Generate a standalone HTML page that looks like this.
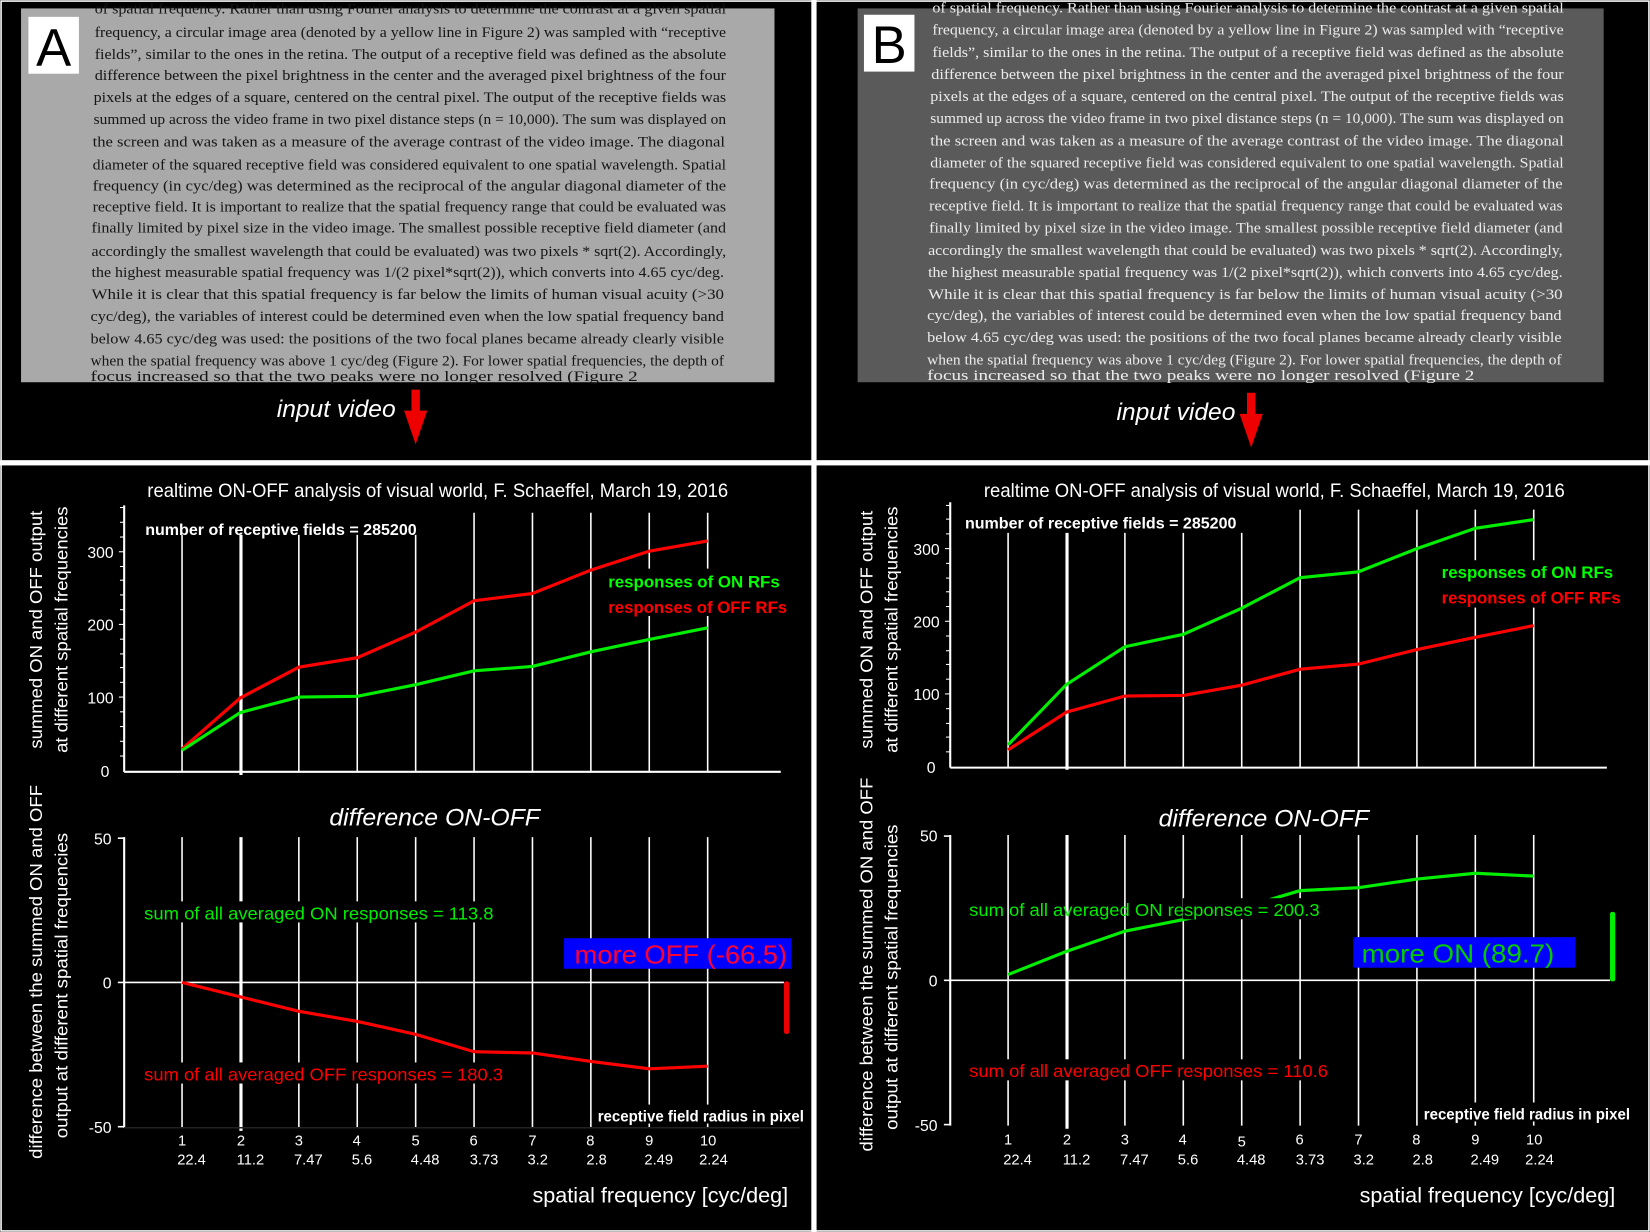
<!DOCTYPE html>
<html><head><meta charset="utf-8"><style>
html,body{margin:0;padding:0;background:#000;}
svg{display:block}
.s{font-family:"Liberation Sans",sans-serif;}
.n{font-family:"Liberation Sans Narrow","Liberation Sans",sans-serif;}
.t{font-family:"Liberation Serif",serif;font-size:14px;}
</style></head><body>
<svg width="1650" height="1232" viewBox="0 0 1568 1170" preserveAspectRatio="none" xmlns="http://www.w3.org/2000/svg">
<rect width="1568" height="1170" fill="#000"/>
<rect x="1" y="1" width="1566" height="1168" fill="none" stroke="#fff" stroke-width="1.5"/>
<rect x="0" y="437" width="1568" height="5" fill="#fff"/>
<rect x="771" y="0" width="5" height="1170" fill="#fff"/>

<rect x="20" y="8" width="716" height="355" fill="#a9a9a9"/>
<g class="t" fill="#151515" lengthAdjust="spacingAndGlyphs">
<text x="90" y="13" textLength="600" lengthAdjust="spacingAndGlyphs">of spatial frequency. Rather than using Fourier analysis to determine the contrast at a given spatial</text>
<text x="90" y="35" textLength="600" lengthAdjust="spacingAndGlyphs">frequency, a circular image area (denoted by a yellow line in Figure 2) was sampled with “receptive</text>
<text x="90" y="56" textLength="600" lengthAdjust="spacingAndGlyphs">fields”, similar to the ones in the retina. The output of a receptive field was defined as the absolute</text>
<text x="90" y="76" textLength="600" lengthAdjust="spacingAndGlyphs">difference between the pixel brightness in the center and the averaged pixel brightness of the four</text>
<text x="89" y="97" textLength="601" lengthAdjust="spacingAndGlyphs">pixels at the edges of a square, centered on the central pixel. The output of the receptive fields was</text>
<text x="89" y="118" textLength="601" lengthAdjust="spacingAndGlyphs">summed up across the video frame in two pixel distance steps (n = 10,000). The sum was displayed on</text>
<text x="88" y="139" textLength="601" lengthAdjust="spacingAndGlyphs">the screen and was taken as a measure of the average contrast of the video image. The diagonal</text>
<text x="88" y="161" textLength="602" lengthAdjust="spacingAndGlyphs">diameter of the squared receptive field was considered equivalent to one spatial wavelength. Spatial</text>
<text x="88" y="181" textLength="602" lengthAdjust="spacingAndGlyphs">frequency (in cyc/deg) was determined as the reciprocal of the angular diagonal diameter of the</text>
<text x="88" y="201" textLength="602" lengthAdjust="spacingAndGlyphs">receptive field. It is important to realize that the spatial frequency range that could be evaluated was</text>
<text x="87" y="221" textLength="603" lengthAdjust="spacingAndGlyphs">finally limited by pixel size in the video image. The smallest possible receptive field diameter (and</text>
<text x="87" y="243" textLength="603" lengthAdjust="spacingAndGlyphs">accordingly the smallest wavelength that could be evaluated) was two pixels * sqrt(2). Accordingly,</text>
<text x="87" y="263" textLength="601" lengthAdjust="spacingAndGlyphs">the highest measurable spatial frequency was 1/(2 pixel*sqrt(2)), which converts into 4.65 cyc/deg.</text>
<text x="87" y="284" textLength="601" lengthAdjust="spacingAndGlyphs">While it is clear that this spatial frequency is far below the limits of human visual acuity (&gt;30</text>
<text x="86" y="305" textLength="602" lengthAdjust="spacingAndGlyphs">cyc/deg), the variables of interest could be determined even when the low spatial frequency band</text>
<text x="86" y="326" textLength="602" lengthAdjust="spacingAndGlyphs">below 4.65 cyc/deg was used: the positions of the two focal planes became already clearly visible</text>
<text x="86" y="347" textLength="602" lengthAdjust="spacingAndGlyphs">when the spatial frequency was above 1 cyc/deg (Figure 2). For lower spatial frequencies, the depth of</text>
<text x="86" y="362" textLength="520" lengthAdjust="spacingAndGlyphs">focus increased so that the two peaks were no longer resolved (Figure 2</text>
</g>
<rect x="27" y="16" width="48" height="54" fill="#fff"/>
<text x="51" y="62" class="s" font-size="50" text-anchor="middle" fill="#000">A</text>

<rect x="815" y="8" width="709" height="355" fill="#5a5a5a"/>
<g class="t" fill="#ececec">
<text x="886" y="12" textLength="600" lengthAdjust="spacingAndGlyphs">of spatial frequency. Rather than using Fourier analysis to determine the contrast at a given spatial</text>
<text x="886" y="33" textLength="600" lengthAdjust="spacingAndGlyphs">frequency, a circular image area (denoted by a yellow line in Figure 2) was sampled with “receptive</text>
<text x="886" y="54" textLength="600" lengthAdjust="spacingAndGlyphs">fields”, similar to the ones in the retina. The output of a receptive field was defined as the absolute</text>
<text x="885" y="75" textLength="601" lengthAdjust="spacingAndGlyphs">difference between the pixel brightness in the center and the averaged pixel brightness of the four</text>
<text x="884" y="96" textLength="602" lengthAdjust="spacingAndGlyphs">pixels at the edges of a square, centered on the central pixel. The output of the receptive fields was</text>
<text x="884" y="117" textLength="602" lengthAdjust="spacingAndGlyphs">summed up across the video frame in two pixel distance steps (n = 10,000). The sum was displayed on</text>
<text x="884" y="138" textLength="602" lengthAdjust="spacingAndGlyphs">the screen and was taken as a measure of the average contrast of the video image. The diagonal</text>
<text x="884" y="159" textLength="602" lengthAdjust="spacingAndGlyphs">diameter of the squared receptive field was considered equivalent to one spatial wavelength. Spatial</text>
<text x="883" y="179" textLength="602" lengthAdjust="spacingAndGlyphs">frequency (in cyc/deg) was determined as the reciprocal of the angular diagonal diameter of the</text>
<text x="883" y="200" textLength="602" lengthAdjust="spacingAndGlyphs">receptive field. It is important to realize that the spatial frequency range that could be evaluated was</text>
<text x="883" y="221" textLength="602" lengthAdjust="spacingAndGlyphs">finally limited by pixel size in the video image. The smallest possible receptive field diameter (and</text>
<text x="882" y="242" textLength="603" lengthAdjust="spacingAndGlyphs">accordingly the smallest wavelength that could be evaluated) was two pixels * sqrt(2). Accordingly,</text>
<text x="882" y="263" textLength="603" lengthAdjust="spacingAndGlyphs">the highest measurable spatial frequency was 1/(2 pixel*sqrt(2)), which converts into 4.65 cyc/deg.</text>
<text x="882" y="284" textLength="603" lengthAdjust="spacingAndGlyphs">While it is clear that this spatial frequency is far below the limits of human visual acuity (&gt;30</text>
<text x="881" y="304" textLength="603" lengthAdjust="spacingAndGlyphs">cyc/deg), the variables of interest could be determined even when the low spatial frequency band</text>
<text x="881" y="325" textLength="603" lengthAdjust="spacingAndGlyphs">below 4.65 cyc/deg was used: the positions of the two focal planes became already clearly visible</text>
<text x="881" y="346" textLength="603" lengthAdjust="spacingAndGlyphs">when the spatial frequency was above 1 cyc/deg (Figure 2). For lower spatial frequencies, the depth of</text>
<text x="881" y="361" textLength="520" lengthAdjust="spacingAndGlyphs">focus increased so that the two peaks were no longer resolved (Figure 2</text>
</g>
<rect x="821" y="14" width="48" height="54" fill="#fff"/>
<text x="845" y="60" class="s" font-size="50" text-anchor="middle" fill="#000">B</text>

<g class="s" font-size="23" font-style="italic" fill="#fff">
<text x="263" y="396" textLength="113" lengthAdjust="spacingAndGlyphs">input video</text>
<text x="1061" y="399" textLength="113" lengthAdjust="spacingAndGlyphs">input video</text>
</g>
<g fill="#e00">
<rect x="391" y="370" width="8" height="22"/><polygon points="384,390 406,390 395,422"/>
<rect x="1185" y="373" width="8" height="22"/><polygon points="1178,393 1200,393 1189,425"/>
</g>

<!-- ============ PANEL A ============ -->
<text x="140" y="472" class="s" fill="#fff" font-size="18" textLength="552" lengthAdjust="spacingAndGlyphs">realtime ON-OFF analysis of visual world, F. Schaeffel, March 19, 2016</text>
<g stroke="#fff" stroke-width="2">
<line x1="118" y1="480" x2="118" y2="733"/>
<line x1="118" y1="733" x2="742" y2="733"/>
<g stroke-width="1.5">
<line x1="173" y1="508" x2="173" y2="733"/><line x1="284" y1="508" x2="284" y2="733"/><line x1="339.5" y1="508" x2="339.5" y2="733"/><line x1="395" y1="508" x2="395" y2="733"/>
<line x1="450.5" y1="487" x2="450.5" y2="733"/><line x1="506" y1="487" x2="506" y2="733"/><line x1="561.5" y1="487" x2="561.5" y2="733"/><line x1="617" y1="487" x2="617" y2="733"/><line x1="672.5" y1="487" x2="672.5" y2="733"/>
</g>
<line x1="229" y1="508" x2="229" y2="736" stroke-width="3"/>
<g stroke-width="1">
<line x1="114" y1="718" x2="118" y2="718"/><line x1="114" y1="704" x2="118" y2="704"/><line x1="114" y1="690" x2="118" y2="690"/><line x1="114" y1="676" x2="118" y2="676"/><line x1="113" y1="662" x2="118" y2="662"/>
<line x1="114" y1="648" x2="118" y2="648"/><line x1="114" y1="634" x2="118" y2="634"/><line x1="114" y1="621" x2="118" y2="621"/><line x1="114" y1="607" x2="118" y2="607"/><line x1="113" y1="593" x2="118" y2="593"/>
<line x1="114" y1="579" x2="118" y2="579"/><line x1="114" y1="565" x2="118" y2="565"/><line x1="114" y1="551" x2="118" y2="551"/><line x1="114" y1="538" x2="118" y2="538"/><line x1="113" y1="524" x2="118" y2="524"/>
<line x1="114" y1="510" x2="118" y2="510"/><line x1="114" y1="496" x2="118" y2="496"/><line x1="114" y1="482" x2="118" y2="482"/>
</g>
</g>
<g class="n" fill="#fff" font-size="15" text-anchor="end">
<text x="104" y="738">0</text><text x="108" y="668">100</text><text x="108" y="599">200</text><text x="108" y="530">300</text>
</g>
<text x="138" y="508" class="n" fill="#fff" font-size="15" font-weight="bold" textLength="258" lengthAdjust="spacingAndGlyphs">number of receptive fields = 285200</text>
<rect x="575" y="540" width="178" height="45" fill="#000"/>
<text x="578" y="558" class="n" fill="#0f0" font-size="16" font-weight="bold" textLength="163" lengthAdjust="spacingAndGlyphs">responses of ON RFs</text>
<text x="578" y="582" class="n" fill="#f00" font-size="16" font-weight="bold" textLength="170" lengthAdjust="spacingAndGlyphs">responses of OFF RFs</text>
<polyline fill="none" stroke="#f00" stroke-width="3" points="173,711.2 228.5,662.7 284,633.6 339.5,624.6 395,600.3 450.5,570.5 506,563.6 561.5,541.4 617,523.4 672.5,513.7"/>
<polyline fill="none" stroke="#0e0" stroke-width="3" points="173,712.6 228.5,676.6 284,662 339.5,661.3 395,650.2 450.5,637.1 506,632.9 561.5,619 617,607.3 672.5,596.2"/>
<g class="s" fill="#fff" font-size="17" text-anchor="middle">
<text transform="translate(40,598) rotate(-90)" textLength="226" lengthAdjust="spacingAndGlyphs">summed ON and OFF output</text>
<text transform="translate(64,598) rotate(-90)" textLength="234" lengthAdjust="spacingAndGlyphs">at different spatial frequencies</text>
<text transform="translate(40,923) rotate(-90)" textLength="355" lengthAdjust="spacingAndGlyphs">difference between the summed ON and OFF</text>
<text transform="translate(64,936) rotate(-90)" textLength="290" lengthAdjust="spacingAndGlyphs">output at different spatial frequencies</text>
</g>
<text x="313" y="784" class="s" fill="#fff" font-size="23" font-style="italic" textLength="200" lengthAdjust="spacingAndGlyphs">difference ON-OFF</text>
<g stroke="#fff" stroke-width="1.5">
<line x1="118" y1="795" x2="118" y2="1071" stroke-width="2"/>
<line x1="118" y1="933" x2="745" y2="933"/>
<line x1="173" y1="795" x2="173" y2="1071"/><line x1="284" y1="795" x2="284" y2="1071"/><line x1="339.5" y1="795" x2="339.5" y2="1071"/><line x1="395" y1="795" x2="395" y2="1071"/>
<line x1="450.5" y1="795" x2="450.5" y2="1071"/><line x1="506" y1="795" x2="506" y2="1071"/><line x1="561.5" y1="795" x2="561.5" y2="1071"/><line x1="617" y1="795" x2="617" y2="1071"/><line x1="672.5" y1="795" x2="672.5" y2="1071"/>
<line x1="229" y1="795" x2="229" y2="1074" stroke-width="3"/>
<line x1="112" y1="796" x2="118" y2="796"/><line x1="112" y1="933" x2="118" y2="933"/><line x1="112" y1="1070" x2="118" y2="1070"/>
<line x1="118" y1="1071" x2="760" y2="1071" stroke="#222"/>
</g>
<g class="n" fill="#fff" font-size="15" text-anchor="end">
<text x="106" y="802">50</text><text x="106" y="939">0</text><text x="106" y="1076">-50</text>
</g>
<rect x="135" y="856" width="338" height="20" fill="#000"/>
<text x="137" y="873" class="s" fill="#0e0" font-size="17" textLength="332" lengthAdjust="spacingAndGlyphs">sum of all averaged ON responses = 113.8</text>
<rect x="135" y="1009" width="346" height="20" fill="#000"/>
<text x="137" y="1026" class="s" fill="#f00" font-size="17" textLength="341" lengthAdjust="spacingAndGlyphs">sum of all averaged OFF responses = 180.3</text>
<polyline fill="none" stroke="#f00" stroke-width="3" points="173,933 228.5,946.7 284,960.4 339.5,970 395,982.3 450.5,998.8 506,1000 561.5,1008 617,1015 672.5,1012.5"/>
<rect x="536" y="891" width="216" height="29" fill="#00f"/>
<text x="546" y="915" class="s" fill="#f03" font-size="25" textLength="202" lengthAdjust="spacingAndGlyphs">more OFF (-66.5)</text>
<rect x="745" y="932" width="5" height="50" fill="#e00" rx="2"/>
<rect x="565" y="1049" width="202" height="18" fill="#000"/>
<text x="568" y="1065" class="n" fill="#fff" font-size="15" font-weight="bold" textLength="196" lengthAdjust="spacingAndGlyphs">receptive field radius in pixel</text>
<g class="s" fill="#fff" font-size="14" text-anchor="middle">
<text x="173" y="1088">1</text><text x="229" y="1088">2</text><text x="284" y="1088">3</text><text x="339" y="1088">4</text><text x="395" y="1088">5</text><text x="450" y="1088">6</text><text x="506" y="1088">7</text><text x="561" y="1088">8</text><text x="617" y="1088">9</text><text x="673" y="1088">10</text>
<text x="182" y="1106">22.4</text><text x="238" y="1106">11.2</text><text x="293" y="1106">7.47</text><text x="344" y="1106">5.6</text><text x="404" y="1106">4.48</text><text x="460" y="1106">3.73</text><text x="511" y="1106">3.2</text><text x="567" y="1106">2.8</text><text x="626" y="1106">2.49</text><text x="678" y="1106">2.24</text>
</g>
<text x="506" y="1142" class="s" fill="#fff" font-size="20" textLength="243" lengthAdjust="spacingAndGlyphs">spatial frequency [cyc/deg]</text>

<!-- ============ PANEL B ============ -->
<text x="935" y="472" class="s" fill="#fff" font-size="18" textLength="552" lengthAdjust="spacingAndGlyphs">realtime ON-OFF analysis of visual world, F. Schaeffel, March 19, 2016</text>
<g stroke="#fff" stroke-width="2">
<line x1="903" y1="477" x2="903" y2="729"/>
<line x1="903" y1="729" x2="1527" y2="729"/>
<g stroke-width="1.5">
<line x1="958" y1="506" x2="958" y2="729"/><line x1="1069" y1="506" x2="1069" y2="729"/><line x1="1124.5" y1="506" x2="1124.5" y2="729"/><line x1="1180" y1="506" x2="1180" y2="729"/>
<line x1="1235.5" y1="484" x2="1235.5" y2="729"/><line x1="1291" y1="484" x2="1291" y2="729"/><line x1="1346.5" y1="484" x2="1346.5" y2="729"/><line x1="1402" y1="484" x2="1402" y2="729"/><line x1="1457.5" y1="484" x2="1457.5" y2="729"/>
</g>
<line x1="1014" y1="506" x2="1014" y2="731" stroke-width="3"/>
<g stroke-width="1">
<line x1="899" y1="714" x2="903" y2="714"/><line x1="899" y1="700" x2="903" y2="700"/><line x1="899" y1="687" x2="903" y2="687"/><line x1="899" y1="673" x2="903" y2="673"/><line x1="898" y1="659" x2="903" y2="659"/>
<line x1="899" y1="645" x2="903" y2="645"/><line x1="899" y1="631" x2="903" y2="631"/><line x1="899" y1="618" x2="903" y2="618"/><line x1="899" y1="604" x2="903" y2="604"/><line x1="898" y1="590" x2="903" y2="590"/>
<line x1="899" y1="576" x2="903" y2="576"/><line x1="899" y1="562" x2="903" y2="562"/><line x1="899" y1="549" x2="903" y2="549"/><line x1="899" y1="535" x2="903" y2="535"/><line x1="898" y1="521" x2="903" y2="521"/>
<line x1="899" y1="507" x2="903" y2="507"/><line x1="899" y1="493" x2="903" y2="493"/><line x1="899" y1="480" x2="903" y2="480"/>
</g>
</g>
<g class="n" fill="#fff" font-size="15" text-anchor="end">
<text x="889" y="734">0</text><text x="893" y="665">100</text><text x="893" y="596">200</text><text x="893" y="527">300</text>
</g>
<text x="917" y="502" class="n" fill="#fff" font-size="15" font-weight="bold" textLength="258" lengthAdjust="spacingAndGlyphs">number of receptive fields = 285200</text>
<rect x="1366" y="532" width="180" height="45" fill="#000"/>
<text x="1370" y="549" class="n" fill="#0f0" font-size="16" font-weight="bold" textLength="163" lengthAdjust="spacingAndGlyphs">responses of ON RFs</text>
<text x="1370" y="573" class="n" fill="#f00" font-size="16" font-weight="bold" textLength="170" lengthAdjust="spacingAndGlyphs">responses of OFF RFs</text>
<polyline fill="none" stroke="#0e0" stroke-width="3" points="958,707.3 1013.5,650 1069,614.2 1124.5,602.4 1180,577.6 1235.5,548.6 1291,543 1346.5,521 1402,501.7 1457.5,493.4"/>
<polyline fill="none" stroke="#f00" stroke-width="3" points="958,712.1 1013.5,676.3 1069,661 1124.5,660.4 1180,650.7 1235.5,635.5 1291,630.7 1346.5,616.9 1402,605.2 1457.5,594.1"/>
<g class="s" fill="#fff" font-size="17" text-anchor="middle">
<text transform="translate(829,598) rotate(-90)" textLength="226" lengthAdjust="spacingAndGlyphs">summed ON and OFF output</text>
<text transform="translate(853,598) rotate(-90)" textLength="234" lengthAdjust="spacingAndGlyphs">at different spatial frequencies</text>
<text transform="translate(829,916) rotate(-90)" textLength="355" lengthAdjust="spacingAndGlyphs">difference between the summed ON and OFF</text>
<text transform="translate(853,928) rotate(-90)" textLength="290" lengthAdjust="spacingAndGlyphs">output at different spatial frequencies</text>
</g>
<text x="1101" y="785" class="s" fill="#fff" font-size="23" font-style="italic" textLength="200" lengthAdjust="spacingAndGlyphs">difference ON-OFF</text>
<g stroke="#fff" stroke-width="1.5">
<line x1="903" y1="793" x2="903" y2="1069" stroke-width="2"/>
<line x1="903" y1="931" x2="1530" y2="931"/>
<line x1="958" y1="793" x2="958" y2="1069"/><line x1="1069" y1="793" x2="1069" y2="1069"/><line x1="1124.5" y1="793" x2="1124.5" y2="1069"/><line x1="1180" y1="793" x2="1180" y2="1069"/>
<line x1="1235.5" y1="793" x2="1235.5" y2="1069"/><line x1="1291" y1="793" x2="1291" y2="1069"/><line x1="1346.5" y1="793" x2="1346.5" y2="1069"/><line x1="1402" y1="793" x2="1402" y2="1069"/><line x1="1457.5" y1="793" x2="1457.5" y2="1069"/>
<line x1="1014" y1="793" x2="1014" y2="1072" stroke-width="3"/>
<line x1="897" y1="794" x2="903" y2="794"/><line x1="897" y1="931" x2="903" y2="931"/><line x1="897" y1="1068" x2="903" y2="1068"/>
</g>
<g class="n" fill="#fff" font-size="15" text-anchor="end">
<text x="891" y="799">50</text><text x="891" y="937">0</text><text x="891" y="1074">-50</text>
</g>
<polyline fill="none" stroke="#0e0" stroke-width="3" points="958,925.5 1013.5,903.5 1069,884.3 1124.5,873.3 1180,862.3 1235.5,845.8 1291,843 1346.5,834.8 1402,829.3 1457.5,832"/>
<rect x="1124" y="853" width="132" height="20" fill="#000"/>
<text x="921" y="870" class="s" fill="#0e0" font-size="17" textLength="333" lengthAdjust="spacingAndGlyphs">sum of all averaged ON responses = 200.3</text>
<rect x="919" y="1006" width="346" height="20" fill="#000"/>
<text x="921" y="1023" class="s" fill="#f00" font-size="17" textLength="341" lengthAdjust="spacingAndGlyphs">sum of all averaged OFF responses = 110.6</text>
<rect x="1286" y="890" width="211" height="29" fill="#00f"/>
<text x="1294" y="914" class="s" fill="#0c0" font-size="25" textLength="183" lengthAdjust="spacingAndGlyphs">more ON (89.7)</text>
<rect x="1530" y="866" width="5" height="66" fill="#0e0" rx="2"/>
<rect x="1350" y="1047" width="202" height="18" fill="#000"/>
<text x="1353" y="1063" class="n" fill="#fff" font-size="15" font-weight="bold" textLength="196" lengthAdjust="spacingAndGlyphs">receptive field radius in pixel</text>
<g class="s" fill="#fff" font-size="14" text-anchor="middle">
<text x="958" y="1087">1</text><text x="1014" y="1087">2</text><text x="1069" y="1087">3</text><text x="1124" y="1087">4</text><text x="1180" y="1089">5</text><text x="1235" y="1087">6</text><text x="1291" y="1087">7</text><text x="1346" y="1087">8</text><text x="1402" y="1087">9</text><text x="1458" y="1087">10</text>
<text x="967" y="1106">22.4</text><text x="1023" y="1106">11.2</text><text x="1078" y="1106">7.47</text><text x="1129" y="1106">5.6</text><text x="1189" y="1106">4.48</text><text x="1245" y="1106">3.73</text><text x="1296" y="1106">3.2</text><text x="1352" y="1106">2.8</text><text x="1411" y="1106">2.49</text><text x="1463" y="1106">2.24</text>
</g>
<text x="1292" y="1142" class="s" fill="#fff" font-size="20" textLength="243" lengthAdjust="spacingAndGlyphs">spatial frequency [cyc/deg]</text>
</svg>
</body></html>
